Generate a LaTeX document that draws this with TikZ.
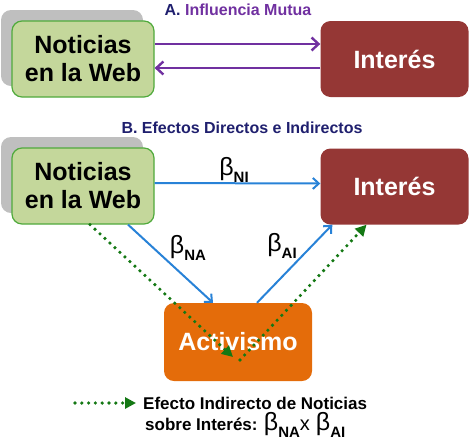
\documentclass[tikz,border=0pt]{standalone}
\usepackage{fontspec}
\setmainfont{Liberation Sans}
\usepackage{xcolor}
\usepackage{tikz}
\usetikzlibrary{positioning}
\usetikzlibrary{arrows.meta}
\definecolor{boxgreen}{RGB}{196,215,155}
\definecolor{linegreen}{RGB}{80,170,60}
\definecolor{boxred}{RGB}{149,55,53}
\definecolor{boxorange}{RGB}{228,108,10}
\definecolor{arrblue}{RGB}{40,130,215}
\definecolor{arrpurple}{RGB}{112,48,160}
\definecolor{dotgreen}{RGB}{20,120,20}
\definecolor{titlenavy}{RGB}{31,31,110}
\newcommand{\betasub}[1]{{\fontsize{25}{25}\selectfont\mdseries β}\raisebox{-7pt}{\fontsize{15}{15}\selectfont\bfseries #1}}

\begin{document}
\begin{tikzpicture}
  [ x=1pt, y=-1pt,
    card/.style={rounded corners=10pt, minimum width=142pt, minimum height=76pt,
      inner sep=0pt, align=center, font=\fontsize{25}{28}\selectfont\bfseries},
    news/.style={card, fill=boxgreen, draw=linegreen, line width=1.2pt},
    shadowcard/.style={card, fill=black!25},
    interest/.style={card, fill=boxred, text=white, minimum width=148pt},
    activism/.style={card, fill=boxorange, text=white, minimum width=148pt, minimum height=78pt},
    heading/.style={font=\fontsize{16}{16}\selectfont\bfseries, text=titlenavy},
    legend/.style={anchor=base west, inner sep=0pt, font=\fontsize{17}{17}\selectfont\bfseries},
    mutual/.style={draw=arrpurple, line width=2.4pt, -{Straight Barb[length=7pt,width=13pt]}},
    effect/.style={draw=arrblue, line width=2pt, -{Straight Barb[length=6pt,width=11pt]}},
    indirect/.style={draw=dotgreen, line width=3.6pt, line cap=round, dash pattern=on 0pt off 6.8pt,
      -{Triangle[length=11pt,width=11pt]}}
  ]
  \useasboundingbox (0,0) rectangle (470,445);

  % A. Influencia Mutua
  \node (titleA) at (238,10) [heading] {A. \textcolor{arrpurple}{Influencia Mutua}};
  \node (s1) at (72,48)    [shadowcard] {};
  \node (N1) at (83,59)    [news]       {Noticias\\en la Web};
  \node (I1) at (394.5,59) [interest]   {Inter\'es};

  \draw [mutual] ([yshift=15pt]N1.east) -- ([yshift=15pt]I1.west);
  \draw [mutual] ([yshift=-9pt]I1.west) -- ([yshift=-9pt]N1.east);

  % B. Efectos Directos e Indirectos
  \node (titleB) at (242,128) [heading] {B. Efectos Directos e Indirectos};
  \node (s2) at (72,175)     [shadowcard] {};
  \node (N2) at (83,186)     [news]       {Noticias\\en la Web};
  \node (I2) at (394.5,186.5) [interest]  {Inter\'es};
  \node (A)  at (238,342)    [activism]   {Activismo};

  \draw [effect] ([yshift=3pt]N2.east) -- ([yshift=3pt]I2.west);
  \draw [effect] ([xshift=45pt]N2.south) -- ([xshift=-25pt]A.north);
  \draw [effect] ([xshift=19pt]A.north) -- ([xshift=12pt]I2.south west);

  \node (bNI) at (234,170) {\betasub{NI}};
  \node (bNA) at (188,248) {\betasub{NA}};
  \node (bAI) at (282,246) {\betasub{AI}};

  \coordinate (viaA) at (233,357);
  \coordinate (fromA) at (240,360);
  \draw [indirect] ([xshift=7pt]N2.south) -- (viaA);
  \draw [indirect] (fromA) -- ([xshift=-28pt]I2.south);

  % leyenda
  \coordinate (legS) at (75,403);
  \coordinate (legE) at (136,403);
  \draw [indirect] (legS) -- (legE);
  \node (leg1) at (143,409) [legend] {Efecto Indirecto de Noticias};
  \node (leg2) at (145,430) [legend] {sobre Inter\'es: \betasub{NA}{\fontsize{20}{20}\selectfont\mdseries x}\hspace{6pt}\betasub{AI}};
\end{tikzpicture}
\end{document}
